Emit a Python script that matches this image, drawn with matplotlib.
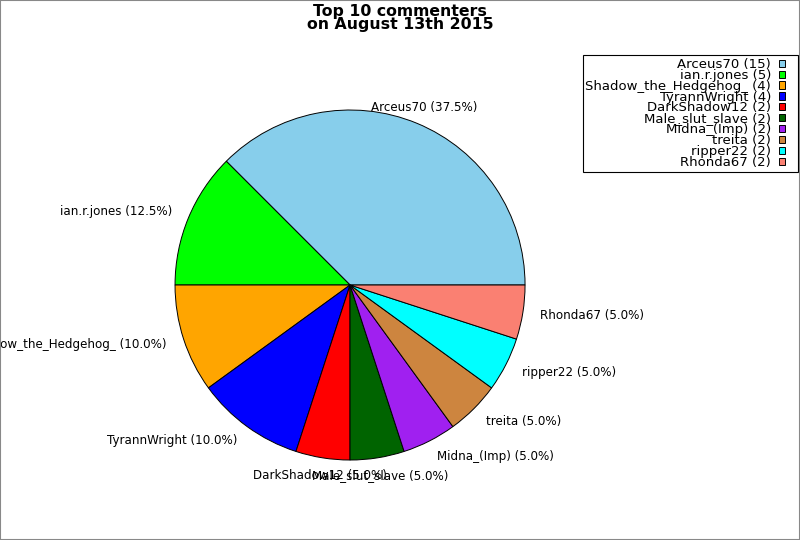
import matplotlib
matplotlib.use("Agg")
import matplotlib.pyplot as plt
from matplotlib.patches import Rectangle
from matplotlib.legend_handler import HandlerPatch

names = ["Arceus70", "ian.r.jones", "Shadow_the_Hedgehog_", "TyrannWright",
         "DarkShadow12", "Male_slut_slave", "Midna_(Imp)", "treita",
         "ripper22", "Rhonda67"]
counts = [15, 5, 4, 4, 2, 2, 2, 2, 2, 2]
colors = ["#87ceeb", "#00ff00", "#ffa500", "#0000ff", "#ff0000",
          "#006400", "#a020f0", "#cd853f", "#00ffff", "#fa8072"]

total = sum(counts)
pie_labels = ["%s (%.1f%%)" % (n, 100.0 * c / total) for n, c in zip(names, counts)]
legend_labels = ["%s (%d)" % (n, c) for n, c in zip(names, counts)]


def small_box(legend, orig_handle, xdescent, ydescent, width, height, fontsize):
    # narrow swatch sitting at the left of the handle box
    w = 0.47 * fontsize
    h = 0.55 * fontsize
    return Rectangle((-xdescent, -ydescent + (height - h) / 2), w, h)


fig = plt.figure(figsize=(8, 5.4), dpi=100)
ax = fig.add_axes([0.1641, 0.0671, 0.5469, 0.8102])

wedges, texts = ax.pie(counts, labels=pie_labels, colors=colors, startangle=0,
                       wedgeprops={"edgecolor": "black", "linewidth": 0.7},
                       textprops={"fontsize": 8.6})
for t in texts:
    x, y = t.get_position()
    if abs(x) < 0.45:
        t.set_horizontalalignment("center")
ax.set_xlim(-1.25, 1.25)
ax.set_ylim(-1.25, 1.25)
ax.set_aspect("equal")

fig.suptitle("Top 10 commenters\non August 13th 2015", fontsize=11.3,
             fontweight="bold", y=0.993, linespacing=0.87)

leg = fig.legend(wedges, legend_labels, loc="upper right",
                 bbox_to_anchor=(798 / 800, 1 - 55 / 540), borderaxespad=0,
                 markerfirst=False, fontsize=9.5, labelspacing=-0.16,
                 handlelength=1.21, handleheight=0.7, handletextpad=0.6,
                 fancybox=False, framealpha=1, edgecolor="black",
                 borderpad=0.22,
                 handler_map={w: HandlerPatch(patch_func=small_box) for w in wedges})
for t in leg.get_texts():
    t.set_horizontalalignment("right")
leg.get_frame().set_linewidth(0.8)

fig.patches.append(Rectangle((0, 0), 1, 1, transform=fig.transFigure,
                             fill=False, edgecolor="#888888", linewidth=1.5))

fig.savefig("out.png", dpi=100)
